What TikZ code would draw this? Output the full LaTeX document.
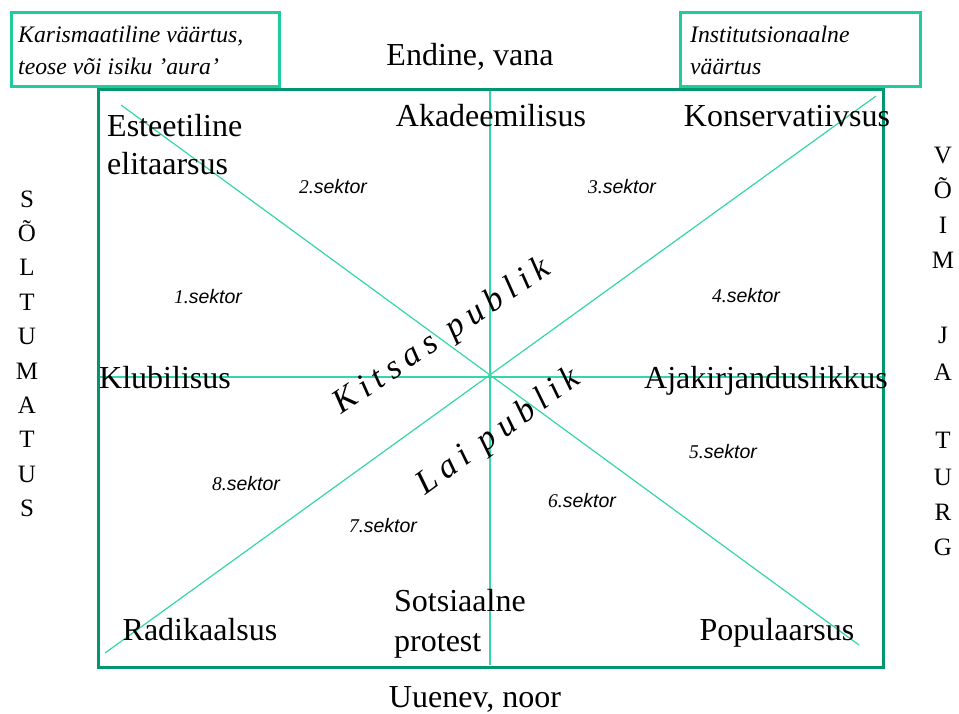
\documentclass[tikz,border=0pt]{standalone}
\usepackage{fontspec}
\setmainfont{Liberation Serif}
\newfontfamily\sektsans{Liberation Sans}
\usepackage{graphicx}
\definecolor{rectc}{RGB}{0,150,112}
\definecolor{linec}{RGB}{52,214,170}
\definecolor{boxc}{RGB}{30,205,155}
\newcommand\sektlab[1]{#1.{\sektsans\itshape sektor}}
\begin{document}
\begin{tikzpicture}[x=1pt,y=-1pt,
  lbl/.style={font=\fontsize{32}{38}\selectfont, anchor=base, inner sep=0pt},
  lblw/.style={font=\fontsize{32}{38}\selectfont, anchor=base west, inner sep=0pt},
  sek/.style={font=\fontsize{19.5}{23}\selectfont\itshape, anchor=base, inner sep=0pt},
  vlet/.style={font=\fontsize{25}{30}\selectfont, anchor=base, inner sep=0pt},
  boxtxt/.style={font=\fontsize{23.7}{33}\selectfont\itshape, anchor=base west, inner sep=0pt},
  pub/.style={font=\fontsize{34}{40}\selectfont\itshape\addfontfeature{LetterSpace=20}, anchor=base, inner sep=0pt},
  thin/.style={draw=linec, line width=1.2pt},
  topbox/.style={draw=boxc, line width=3pt, rectangle, anchor=north west, inner sep=0pt}
]
\useasboundingbox (0,0) rectangle (959,713);

% top boxes
\node[topbox, minimum width=268pt, minimum height=74pt] (kbox) at (10,11) {};
\node[topbox, minimum width=240pt, minimum height=74pt] (ibox) at (679,11) {};
\node[boxtxt] (k1) at (18,42) {Karismaatiline väärtus,};
\node[boxtxt] (k2) at (18,74) {teose või isiku ’aura’};
\node[boxtxt] (i1) at (690,42) {Institutsionaalne};
\node[boxtxt] (i2) at (690,74) {väärtus};

% coordinates of lines
\coordinate (vt) at (490,88);
\coordinate (vb) at (490,665);
\coordinate (hl) at (98,377);
\coordinate (hr) at (882,377);
\coordinate (d1a) at (121,105);
\coordinate (d1b) at (859,645);
\coordinate (d2a) at (876,96);
\coordinate (d2b) at (105,653);

\draw[thin] (vt) -- (vb);
\draw[thin] (hl) -- (hr);
\draw[thin] (d1a) -- (d1b);
\draw[thin] (d2a) -- (d2b);

% main rectangle
\node[draw=rectc, line width=3pt, rectangle, anchor=north west, inner sep=0pt,
      minimum width=785pt, minimum height=578pt] (main) at (97,88) {};

% labels
\node[lbl] (endine) at (470,65) {Endine, vana};
\node[lbl] (uuenev) at (475,707) {Uuenev, noor};
\node[lbl] (akad) at (491,126) {Akadeemilisus};
\node[lbl] (kons) at (787,126) {Konservatiivsus};
\node[lblw] (est1) at (107,136) {Esteetiline};
\node[lblw] (est2) at (107,174) {elitaarsus};
\node[lbl] (klub) at (165,388) {Klubilisus};
\node[lbl] (ajak) at (766,388) {Ajakirjanduslikkus};
\node[lbl] (radi) at (200,640) {Radikaalsus};
\node[lblw] (sots1) at (394,611) {Sotsiaalne};
\node[lblw] (sots2) at (394,651) {protest};
\node[lbl] (popu) at (777,640) {Populaarsus};

% sectors
\node[sek] (s1) at (208,303) {\sektlab{1}};
\node[sek] (s2) at (333,193) {\sektlab{2}};
\node[sek] (s3) at (622,193) {\sektlab{3}};
\node[sek] (s4) at (746,302) {\sektlab{4}};
\node[sek] (s5) at (723,458) {\sektlab{5}};
\node[sek] (s6) at (582,507) {\sektlab{6}};
\node[sek] (s7) at (383,532) {\sektlab{7}};
\node[sek] (s8) at (246,490) {\sektlab{8}};

% publik
\node[pub, rotate=34] (kitsas) at (447,344) {Kitsas publik};
\node[pub, rotate=36] (lai) at (504,439) {Lai publik};

% left vertical
\foreach \l [count=\i from 0] in {S,Õ,L,T,U,M,A,T,U,S}
  \node[vlet] (L\i) at (27,{207+34.4*\i}) {\l};
% right vertical
\foreach \l/\y [count=\i from 0] in {V/163,Õ/198,I/233,M/268,J/343,A/380,T/448,U/485,R/520,G/555}
  \node[vlet] (R\i) at (943,\y) {\l};
\end{tikzpicture}
\end{document}
